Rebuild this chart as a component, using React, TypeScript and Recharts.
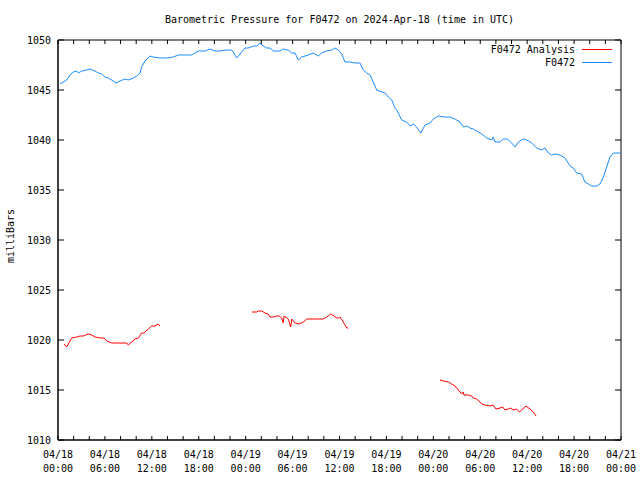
import React from 'react';
import { LineChart, Line, XAxis, YAxis, Legend, ReferenceArea } from 'recharts';

// hours since 2024-04-18 00:00 UTC
const blueHours = [
  0.26, 0.68, 1.11, 1.53, 1.96, 2.39, 2.6, 3.03, 3.67, 4.09, 4.73, 5.15, 5.59, 6.01, 6.43, 6.87,
  7.42, 7.93, 8.57, 8.99, 9.63, 10.06, 10.49, 10.7, 11.13, 11.77, 12.19, 13.04, 13.9, 14.75, 15.38,
  16.46, 17.1, 17.52, 17.94, 18.8, 19.44, 20.08, 20.72, 21.57, 22.21, 22.42, 22.85, 23.49, 23.91,
  24.34, 24.98, 25.41, 25.83, 26.26, 26.69, 27.11, 27.53, 28.39, 28.81, 29.45, 29.89, 30.31, 30.73,
  31.17, 32.01, 32.65, 33.29, 33.72, 34.36, 35.0, 35.42, 35.85, 36.28, 36.7, 37.34, 37.98, 38.62,
  39.04, 39.48, 39.9, 40.32, 40.76, 41.4, 41.82, 42.24, 42.68, 43.1, 43.32, 43.96, 44.6, 45.02,
  45.45, 45.87, 46.39, 46.94, 47.57, 48.0, 48.64, 49.49, 50.13, 50.77, 51.41, 51.83, 52.27, 52.69,
  53.11, 53.75, 54.19, 54.83, 55.46, 55.67, 55.89, 56.53, 56.95, 57.46, 58.02, 58.44, 58.87, 59.51,
  59.94, 60.58, 61.22, 61.86, 62.28, 62.7, 63.14, 63.56, 64.2, 64.84, 65.48, 65.9, 66.33, 66.97,
  67.39, 67.82, 68.25, 68.89, 69.31, 69.74, 70.17, 70.59, 71.02, 71.53, 71.96,
];
const blueValues = [
  1045.6, 1045.8, 1046.0, 1046.5, 1046.8, 1046.9, 1046.7, 1046.9, 1047.0, 1047.1, 1046.9, 1046.7,
  1046.6, 1046.3, 1046.2, 1046.0, 1045.7, 1045.9, 1046.1, 1046.0, 1046.2, 1046.4, 1046.7, 1047.3,
  1047.9, 1048.4, 1048.3, 1048.2, 1048.2, 1048.3, 1048.5, 1048.5, 1048.5, 1048.7, 1048.9, 1048.9,
  1049.1, 1048.9, 1048.9, 1049.0, 1049.0, 1048.8, 1048.2, 1048.8, 1049.2, 1049.2, 1049.4, 1049.4,
  1049.7, 1049.4, 1049.2, 1049.2, 1048.9, 1048.9, 1049.1, 1049.0, 1048.7, 1048.7, 1048.0, 1048.3,
  1048.5, 1048.7, 1048.4, 1048.7, 1048.9, 1049.0, 1049.2, 1049.0, 1048.6, 1047.8, 1047.8, 1047.7,
  1047.7, 1047.0, 1046.7, 1046.5, 1045.8, 1045.0, 1044.8, 1044.7, 1044.3, 1044.0, 1043.2, 1043.0,
  1042.0, 1041.8, 1041.4, 1041.6, 1041.3, 1040.7, 1041.5, 1041.7, 1042.1, 1042.4, 1042.3, 1042.3,
  1042.1, 1041.8, 1041.3, 1041.4, 1041.2, 1041.1, 1040.8, 1040.6, 1040.2, 1040.0, 1040.3, 1039.8,
  1039.8, 1040.1, 1040.1, 1039.7, 1039.3, 1039.8, 1040.1, 1040.0, 1039.7, 1039.2, 1039.0, 1039.2,
  1038.7, 1038.5, 1038.6, 1038.5, 1038.2, 1037.4, 1037.2, 1036.7, 1036.6, 1035.8, 1035.6, 1035.4,
  1035.4, 1035.6, 1036.3, 1037.3, 1038.3, 1038.7, 1038.7, 1038.7,
];

// analysis, null = gap between runs
const redHours = [
  0.77, 1.11, 1.75, 2.39, 2.81, 3.24, 3.88, 4.31, 4.73, 5.37, 5.88, 6.23, 6.87, 7.93, 8.79, 8.99,
  9.85, 10.27, 10.7, 10.99, 11.55, 11.98, 12.4, 12.83, 13.04,
  18.0,
  24.77, 25.41, 25.62, 26.05, 26.47, 26.89, 27.11, 27.53, 27.97, 28.3, 28.61, 28.81, 28.9, 29.45,
  29.76, 29.89, 30.31, 30.86, 31.37, 31.81, 33.93, 34.36, 34.87, 35.3, 35.64, 35.85, 36.06, 36.41,
  36.7, 36.92, 37.13,
  42.0,
  48.85, 49.28, 49.92, 50.35, 50.77, 51.2, 51.63, 51.83, 51.92, 52.47, 52.91, 53.11, 53.55, 53.97,
  54.19, 54.61, 55.25, 55.67, 56.01, 56.53, 56.87, 57.16, 57.59, 57.9, 58.23, 58.66, 59.0, 59.3,
  59.85, 60.36, 60.79, 61.13,
];
const redValues = [
  1019.6, 1019.3, 1020.2, 1020.3, 1020.4, 1020.4, 1020.6, 1020.5, 1020.3, 1020.2, 1020.2, 1019.9,
  1019.7, 1019.7, 1019.7, 1019.5, 1020.1, 1020.2, 1020.7, 1020.7, 1021.1, 1021.4, 1021.4, 1021.6,
  1021.4,
  null,
  1022.8, 1022.8, 1022.9, 1022.9, 1022.7, 1022.6, 1022.3, 1022.3, 1022.4, 1022.4, 1022.2, 1021.7,
  1022.4, 1022.1, 1021.3, 1022.1, 1021.7, 1021.6, 1021.8, 1022.1, 1022.1, 1022.3, 1022.6, 1022.4,
  1022.2, 1022.2, 1022.3, 1021.9, 1021.5, 1021.2, 1021.2,
  null,
  1016.0, 1015.9, 1015.8, 1015.6, 1015.4, 1015.0, 1014.6, 1014.8, 1014.5, 1014.5, 1014.4, 1014.2,
  1014.1, 1013.8, 1013.6, 1013.5, 1013.4, 1013.5, 1013.1, 1013.2, 1013.3, 1013.0, 1013.1, 1013.2,
  1013.0, 1013.1, 1012.8, 1013.0, 1013.4, 1013.1, 1012.8, 1012.4,
];

const xTicks = Array.from({ length: 37 }, (_, i) => i * 2);
const yTicks = [1010, 1015, 1020, 1025, 1030, 1035, 1040, 1045, 1050];

const blueData = blueHours.map((t, i) => ({ t, v: blueValues[i] }));
const redData = redHours.map((t, i) => ({ t, v: redValues[i] }));

const FONT = '"DejaVu Sans Mono", monospace';

const W = 640;
const H = 480;
const MARGIN = { top: 40, right: 19, bottom: 0, left: 8 };
const Y_AXIS_W = 50;
const X_AXIS_H = 40;
// plot box size, used to mirror the ticks on the top and right borders
const PLOT_W = W - MARGIN.left - MARGIN.right - Y_AXIS_W;
const PLOT_H = H - MARGIN.top - MARGIN.bottom - X_AXIS_H;

const dateLabel = (h: number) => {
  const day = 18 + Math.floor(h / 24);
  const hr = h % 24;
  return [`04/${day}`, `${String(hr).padStart(2, '0')}:00`];
};

const BottomTick = (props: any) => {
  const { x, y, payload } = props;
  const h = payload.value;
  const labelled = h % 6 === 0;
  const [d, t] = dateLabel(h);
  return (
    <g>
      <line x1={x} y1={y} x2={x} y2={y - 4} stroke="#000" />
      <line x1={x} y1={y - PLOT_H} x2={x} y2={y - PLOT_H + 4} stroke="#000" />
      {labelled && (
        <text x={x} y={y + 18} textAnchor="middle" fontFamily={FONT} fontSize={10} fill="#000">
          <tspan x={x}>{d}</tspan>
          <tspan x={x} dy={14}>{t}</tspan>
        </text>
      )}
    </g>
  );
};

const LeftTick = (props: any) => {
  const { x, y, payload } = props;
  return (
    <g>
      <line x1={x} y1={y} x2={x + 6} y2={y} stroke="#000" />
      <line x1={x + PLOT_W} y1={y} x2={x + PLOT_W - 6} y2={y} stroke="#000" />
      <text x={x - 7} y={y + 3.5} textAnchor="end" fontFamily={FONT} fontSize={10} fill="#000">
        {payload.value}
      </text>
    </g>
  );
};

const renderLegend = (props: any) => {
  const items = [...(props.payload || [])].reverse();
  return (
    <div style={{ fontFamily: FONT, fontSize: 10, color: '#000' }}>
      {items.map((item: any) => (
        <div key={item.value} style={{ display: 'flex', justifyContent: 'flex-end', alignItems: 'center', height: 13 }}>
          <span>{item.value}</span>
          <span style={{ display: 'inline-block', width: 30, marginLeft: 7, borderTop: `1px solid ${item.color}` }} />
        </div>
      ))}
    </div>
  );
};

export default function App() {
  return (
    <div style={{ position: 'absolute', left: 0, top: 0, width: W, height: H, background: '#fff' }}>
      <LineChart width={W} height={H} margin={MARGIN}>
        <text x={339.5} y={23} textAnchor="middle" fontFamily={FONT} fontSize={10} fill="#000">
          Barometric Pressure for F0472 on 2024-Apr-18 (time in UTC)
        </text>
        <text
          x={0}
          y={0}
          transform="translate(14, 236) rotate(-90)"
          textAnchor="middle"
          fontFamily={FONT}
          fontSize={10}
          fill="#000"
        >
          milliBars
        </text>
        <XAxis
          dataKey="t"
          type="number"
          domain={[0, 72]}
          ticks={xTicks}
          interval={0}
          height={X_AXIS_H}
          tickSize={0}
          tickMargin={0}
          tickLine={false}
          tick={BottomTick}
          axisLine={{ stroke: '#000' }}
          allowDataOverflow
        />
        <YAxis
          type="number"
          domain={[1010, 1050]}
          ticks={yTicks}
          interval={0}
          width={Y_AXIS_W}
          tickSize={0}
          tickMargin={0}
          tickLine={false}
          tick={LeftTick}
          axisLine={{ stroke: '#000' }}
          allowDataOverflow
        />
        <ReferenceArea x1={0} x2={72} y1={1010} y2={1050} fill="none" stroke="#000" strokeOpacity={1} fillOpacity={0} />
        <Legend
          layout="vertical"
          align="center"
          verticalAlign="middle"
          content={renderLegend}
          wrapperStyle={{ position: 'absolute', left: 420, top: 43, width: 192, height: 26 }}
        />
        <Line
          data={blueData}
          dataKey="v"
          name="F0472"
          stroke="#1a8cff"
          strokeWidth={1}
          dot={false}
          activeDot={false}
          type="linear"
          isAnimationActive={false}
        />
        <Line
          data={redData}
          dataKey="v"
          name="F0472 Analysis"
          stroke="#ff0000"
          strokeWidth={1}
          dot={false}
          activeDot={false}
          type="linear"
          connectNulls={false}
          isAnimationActive={false}
        />
      </LineChart>
    </div>
  );
}
